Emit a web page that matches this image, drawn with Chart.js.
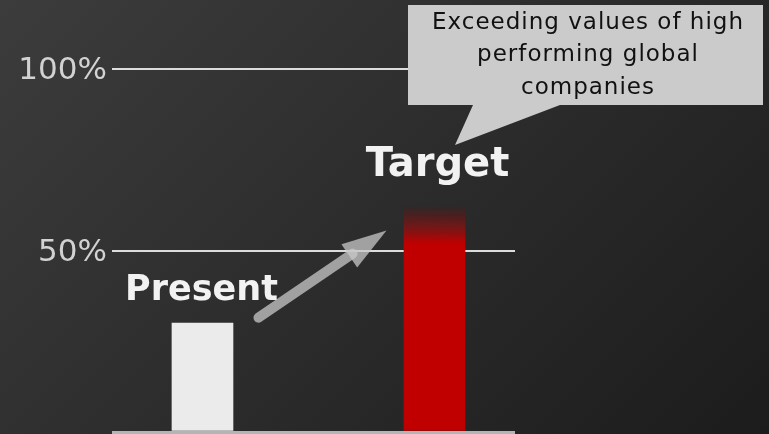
<!DOCTYPE html>
<html>
<head>
<meta charset="utf-8">
<script src="https://cdn.jsdelivr.net/npm/chart.js@4.4.0/dist/chart.umd.min.js"></script>
<style>
  html, body { margin: 0; padding: 0; }
  body {
    width: 769px; height: 434px; overflow: hidden;
    background: linear-gradient(135deg, #3c3c3c 0%, #2c2c2c 50%, #1c1c1c 100%);
  }
  #wrap { width: 769px; height: 434px; }
</style>
</head>
<body>
<div id="wrap"><canvas id="myChart"></canvas></div>
<script>
var categories = ['Present', 'Target'];
var values = [30, 62];
var tickValues = [0, 50, 100];
var tickLabels = ['', '50%', '100%'];
var calloutLines = ['Exceeding values of high', 'performing global', 'companies'];

var FONT = '"DejaVu Sans", Verdana, sans-serif';

// bars are placed on a numeric x axis, one slot per category
var points = categories.map(function (c, i) {
    return { x: i, y: values[i] };
});

function barColor(context) {
    var chart = context.chart;
    if (context.dataIndex === 0) return '#ebebeb';
    var area = chart.chartArea;
    if (!area) return '#c00000';
    var y = chart.scales.y;
    var top = y.getPixelForValue(values[context.dataIndex]);
    var g = chart.ctx.createLinearGradient(0, top, 0, top + 40);
    g.addColorStop(0, 'rgba(150,0,0,0.05)');
    g.addColorStop(0.45, 'rgba(150,15,15,0.6)');
    g.addColorStop(0.9, '#c00000');
    g.addColorStop(1, '#c00000');
    return g;
}

// extra drawing: tick labels, arrow, labels and callout
var extras = {
    id: 'extras',
    afterDatasetsDraw: function (chart) {
        var ctx = chart.ctx;
        var xs = chart.scales.x, ys = chart.scales.y;
        var x0 = xs.getPixelForValue(0), x1 = xs.getPixelForValue(1);
        ctx.save();

        // y tick labels
        ctx.fillStyle = '#d2d2d2';
        ctx.font = '31px ' + FONT;
        ctx.textAlign = 'right';
        ctx.textBaseline = 'middle';
        tickValues.forEach(function (v, i) {
            ctx.fillText(tickLabels[i], chart.chartArea.left - 5, ys.getPixelForValue(v) + 2);
        });

        // arrow
        var tail = { x: x0 + 56, y: ys.getPixelForValue(31.5) };
        var tip = { x: x1 - 48, y: ys.getPixelForValue(55.5) };
        var ang = Math.atan2(tip.y - tail.y, tip.x - tail.x);
        var headLen = 45, headW = 14;
        var bx = tip.x - headLen * Math.cos(ang), by = tip.y - headLen * Math.sin(ang);
        ctx.strokeStyle = 'rgba(200,200,200,0.75)';
        ctx.fillStyle = 'rgba(200,200,200,0.75)';
        ctx.lineWidth = 10;
        ctx.lineCap = 'round';
        ctx.beginPath();
        ctx.moveTo(tail.x, tail.y);
        ctx.lineTo(bx + 4 * Math.cos(ang), by + 4 * Math.sin(ang));
        ctx.stroke();
        ctx.beginPath();
        ctx.moveTo(tip.x, tip.y);
        ctx.lineTo(bx + headW * Math.sin(ang), by - headW * Math.cos(ang));
        ctx.lineTo(bx - headW * Math.sin(ang), by + headW * Math.cos(ang));
        ctx.closePath();
        ctx.fill();

        // labels
        ctx.fillStyle = '#f2f2f2';
        ctx.textAlign = 'center';
        ctx.textBaseline = 'alphabetic';
        ctx.font = 'bold 35px ' + FONT;
        ctx.fillText(categories[0], x0 - 1, 300);
        ctx.font = 'bold 40px ' + FONT;
        ctx.fillText(categories[1], x1 + 3, 176);

        // callout
        ctx.fillStyle = '#cbcbcb';
        ctx.beginPath();
        ctx.moveTo(408, 5);
        ctx.lineTo(763, 5);
        ctx.lineTo(763, 105);
        ctx.lineTo(560, 105);
        ctx.lineTo(455, 145);
        ctx.lineTo(473, 105);
        ctx.lineTo(408, 105);
        ctx.closePath();
        ctx.fill();
        ctx.fillStyle = '#111111';
        ctx.font = '23px ' + FONT;
        ctx.letterSpacing = '1px';
        ctx.textBaseline = 'middle';
        calloutLines.forEach(function (t, i) {
            ctx.fillText(t, 588, 23 + i * 32.5);
        });
        ctx.restore();
    }
};

var ctx = document.getElementById('myChart').getContext('2d');

var myChart = new Chart(ctx, {
    type: 'bar',
    data: {
        datasets: [{
            data: points,
            backgroundColor: barColor,
            barThickness: 61,
            borderWidth: 0
        }]
    },
    options: {
        responsive: true,
        maintainAspectRatio: false,
        animation: false,
        layout: { padding: { top: 69, bottom: 2, right: 254, left: 0 } },
        plugins: { legend: { display: false }, tooltip: { enabled: false } },
        scales: {
            x: {
                type: 'linear',
                display: false,
                offset: false,
                min: -0.39,
                max: 1.347
            },
            y: {
                min: 0,
                max: 100,
                afterBuildTicks: function (scale) {
                    scale.ticks = tickValues.map(function (v) { return { value: v }; });
                },
                afterFit: function (scale) { scale.width = 112; },
                border: { display: false },
                grid: {
                    drawTicks: false,
                    color: function (c) { return c.tick && c.tick.value === 0 ? '#b4b4b4' : '#dcdcdc'; },
                    lineWidth: function (c) { return c.tick && c.tick.value === 0 ? 3 : 2; }
                },
                ticks: { display: false }
            }
        }
    },
    plugins: [extras]
});
</script>
</body>
</html>
